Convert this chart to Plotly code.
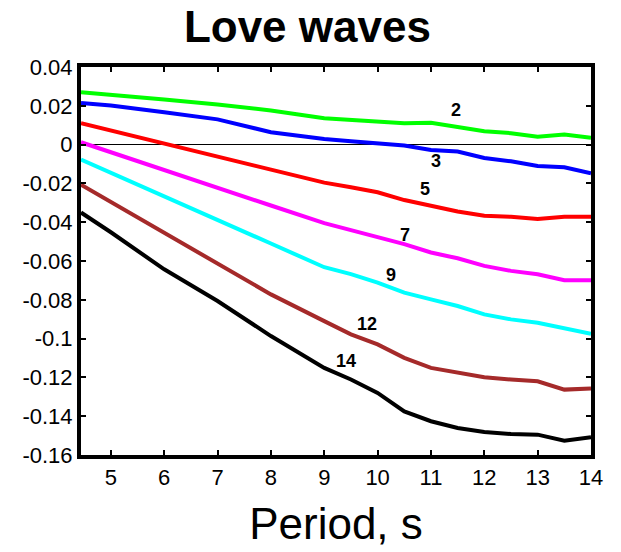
import plotly.graph_objects as go

period = [4.44, 5, 6, 7, 8, 9, 9.5, 10, 10.5, 11, 11.5, 12, 12.5, 13, 13.5, 14]

mode2 = [0.0270, 0.0258, 0.0233, 0.0207, 0.0176, 0.0136, 0.0129, 0.0121, 0.0110, 0.0112,
         0.0090, 0.0069, 0.0059, 0.0041, 0.0052, 0.0035]
mode3 = [0.0215, 0.0202, 0.0167, 0.0130, 0.0064, 0.0029, 0.0017, 0.0007, -0.0005, -0.0028,
         -0.0036, -0.0069, -0.0086, -0.0110, -0.0117, -0.0148]
mode5 = [0.0110, 0.0072, 0.0003, -0.0064, -0.0131, -0.0196, -0.0220, -0.0246, -0.0286, -0.0315,
         -0.0345, -0.0367, -0.0372, -0.0384, -0.0372, -0.0372]
mode7 = [0.0012, -0.0040, -0.0131, -0.0222, -0.0314, -0.0405, -0.0441, -0.0477, -0.0513, -0.0556,
         -0.0586, -0.0625, -0.0651, -0.0668, -0.0699, -0.0699]
mode9 = [-0.0077, -0.0146, -0.0267, -0.0388, -0.0510, -0.0632, -0.0668, -0.0711, -0.0763, -0.0798,
         -0.0832, -0.0875, -0.0901, -0.0918, -0.0947, -0.0975]
mode12 = [-0.0207, -0.0295, -0.0452, -0.0612, -0.0772, -0.0910, -0.0978, -0.1030, -0.1099, -0.1151,
          -0.1177, -0.1199, -0.1211, -0.1220, -0.1263, -0.1257]
mode14 = [-0.0350, -0.0452, -0.0643, -0.0806, -0.0987, -0.1151, -0.1211, -0.1280, -0.1375, -0.1426,
          -0.1461, -0.1481, -0.1492, -0.1495, -0.1526, -0.1509]

labels = ["2", "3", "5", "7", "9", "12", "14"]
label_x = [11.46, 11.09, 10.88, 10.51, 10.26, 9.80, 9.41]
label_y = [0.0176, -0.0083, -0.0229, -0.0465, -0.0672, -0.0927, -0.1116]

series = [mode2, mode3, mode5, mode7, mode9, mode12, mode14]
colors = ["#00ff00", "#0000ff", "#ff0000", "#ff00ff", "#00ffff", "#a52a2a", "#000000"]

x_ticks = [5, 6, 7, 8, 9, 10, 11, 12, 13, 14]
y_ticks = [0.04, 0.02, 0, -0.02, -0.04, -0.06, -0.08, -0.1, -0.12, -0.14, -0.16]
y_tick_text = ["0.04", "0.02", "0", "-0.02", "-0.04", "-0.06", "-0.08", "-0.1", "-0.12", "-0.14", "-0.16"]

FONT = "Liberation Sans, Arial, Helvetica, sans-serif"

fig = go.Figure()
for name, ys, c in zip(labels, series, colors):
    fig.add_trace(go.Scatter(x=period, y=ys, mode="lines", name=name,
                             line=dict(color=c, width=4), showlegend=False))

for t, lx, ly in zip(labels, label_x, label_y):
    fig.add_annotation(x=lx, y=ly, text="<b>%s</b>" % t, showarrow=False,
                       xanchor="center", yanchor="middle",
                       font=dict(family=FONT, size=18, color="black"))

fig.update_layout(
    width=621, height=552,
    margin=dict(l=81, r=30, t=67, b=97),
    paper_bgcolor="white", plot_bgcolor="white",
    font=dict(family=FONT, color="black"),
    title=dict(text="<b>Love waves</b>", font=dict(family=FONT, size=44, color="black"),
               x=0.495, xref="container", xanchor="center",
               y=1 - 27 / 552, yref="container", yanchor="middle"),
)
fig.update_xaxes(range=[4.44, 14], tickvals=x_ticks, ticks="inside", ticklen=5, tickwidth=2,
                 tickcolor="black", showline=True, linewidth=4, linecolor="black", mirror="ticks",
                 showgrid=False, zeroline=False, tickfont=dict(size=22),
                 title=dict(text="Period, s", font=dict(size=44), standoff=20))
fig.update_yaxes(range=[-0.16, 0.04], tickvals=y_ticks, ticktext=y_tick_text, ticks="inside",
                 ticklen=5, tickwidth=2, tickcolor="black", showline=True, linewidth=4,
                 linecolor="black", mirror="ticks", showgrid=False,
                 zeroline=True, zerolinecolor="black", zerolinewidth=1.2,
                 tickfont=dict(size=22))

fig.write_html("out.html")
